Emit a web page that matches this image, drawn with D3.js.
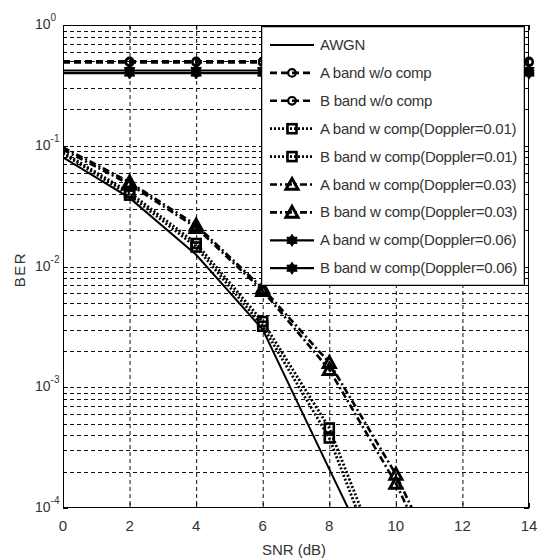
<!DOCTYPE html>
<html>
<head>
<meta charset="utf-8">
<script src="https://cdn.jsdelivr.net/npm/d3@7"></script>
<style>
  html, body { margin: 0; padding: 0; background: #fff; }
  svg { display: block; font-family: "Liberation Sans", Arial, sans-serif; }
</style>
</head>
<body>
<div id="chart"></div>
<script>
// --- data ---
const snrFull = [0, 2, 4, 6, 8, 10, 12, 14];
const aNoComp = [0.50, 0.50, 0.50, 0.50, 0.50, 0.50, 0.50, 0.50];
const bNoComp = [0.49, 0.49, 0.49, 0.49, 0.49, 0.49, 0.49, 0.49];
const aDop06 = [0.42, 0.42, 0.42, 0.42, 0.42, 0.42, 0.42, 0.42];
const bDop06 = [0.40, 0.40, 0.40, 0.40, 0.40, 0.40, 0.40, 0.40];

const snrAwgn = [0, 2, 4, 6, 8, 10];
const awgn = [0.08, 0.037, 0.0125, 0.003, 0.00021, 0.000015];

const snrDop01 = [0, 2, 4, 6, 8, 10];
const aDop01 = [0.088, 0.041, 0.0155, 0.0035, 0.00046, 0.000018];
const bDop01 = [0.086, 0.039, 0.0145, 0.0032, 0.00038, 0.000014];

const snrDop03 = [0, 2, 4, 6, 8, 10, 12];
const aDop03 = [0.097, 0.050, 0.022, 0.0066, 0.0016, 0.00019, 0.000013];
const bDop03 = [0.093, 0.048, 0.021, 0.0063, 0.0014, 0.00016, 0.000011];

const xTicks = [0, 2, 4, 6, 8, 10, 12, 14];
const yDecades = [0, -1, -2, -3, -4];

// series table: style per line
const series = [
  { name: 'AWGN', x: snrAwgn, y: awgn, dash: null, width: 2, marker: null },
  { name: 'A band w/o comp', x: snrFull, y: aNoComp, dash: '7,4', width: 2.6, marker: 'circle' },
  { name: 'B band w/o comp', x: snrFull, y: bNoComp, dash: '7,4', width: 2.6, marker: 'circle' },
  { name: 'A band w comp(Doppler=0.01)', x: snrDop01, y: aDop01, dash: '2,2', width: 2.8, marker: 'square' },
  { name: 'B band w comp(Doppler=0.01)', x: snrDop01, y: bDop01, dash: '2,2', width: 2.8, marker: 'square' },
  { name: 'A band w comp(Doppler=0.03)', x: snrDop03, y: aDop03, dash: '7,3,2,3', width: 2.6, marker: 'triangle' },
  { name: 'B band w comp(Doppler=0.03)', x: snrDop03, y: bDop03, dash: '7,3,2,3', width: 2.6, marker: 'triangle' },
  { name: 'A band w comp(Doppler=0.06)', x: snrFull, y: aDop06, dash: null, width: 2.2, marker: 'hexagram' },
  { name: 'B band w comp(Doppler=0.06)', x: snrFull, y: bDop06, dash: null, width: 2.2, marker: 'hexagram' }
];

const W = 549, H = 560;
const plot = { l: 63, r: 529, t: 25, b: 508 };

const x = d3.scaleLinear().domain([0, 14]).range([plot.l, plot.r]);
const y = d3.scaleLog().domain([1e-4, 1]).range([plot.b, plot.t]);

const svg = d3.select('#chart').append('svg').attr('width', W).attr('height', H);

svg.append('clipPath').attr('id', 'clip')
  .append('rect').attr('x', plot.l).attr('y', plot.t)
  .attr('width', plot.r - plot.l).attr('height', plot.b - plot.t);

// grid
const grid = svg.append('g').attr('stroke', '#111').attr('stroke-width', 1).attr('stroke-dasharray', '4,3');
xTicks.filter(t => t > 0 && t < 14).forEach(t => {
  grid.append('line').attr('x1', x(t) + 0.5).attr('x2', x(t) + 0.5)
    .attr('y1', plot.t).attr('y2', plot.b);
});
const yMinor = y.ticks().filter(v => v > 1e-4 && v < 1);
yMinor.forEach(v => {
  const yy = Math.round(y(v)) + 0.5;
  grid.append('line').attr('x1', plot.l).attr('x2', plot.r).attr('y1', yy).attr('y2', yy);
});

// lines
const lineGen = d3.line().x(d => x(d[0])).y(d => y(d[1]));
const lines = svg.append('g').attr('clip-path', 'url(#clip)');
series.forEach(s => {
  const pts = s.x.map((v, i) => [v, s.y[i]]);
  lines.append('path').attr('d', lineGen(pts))
    .attr('fill', 'none').attr('stroke', '#000')
    .attr('stroke-width', s.width)
    .attr('stroke-dasharray', s.dash);
});

// markers
function hexagramPath(R) {
  const pts = [];
  for (let i = 0; i < 12; i++) {
    const r = i % 2 === 0 ? R : R * 0.6;
    const a = -Math.PI / 2 + i * Math.PI / 6;
    pts.push([Math.cos(a) * r, Math.sin(a) * r]);
  }
  return d3.line().curve(d3.curveLinearClosed)(pts);
}
function drawMarker(g, type, cx, cy) {
  if (type === 'circle') {
    g.append('circle').attr('cx', cx).attr('cy', cy).attr('r', 3.8)
      .attr('fill', 'none').attr('stroke', '#000').attr('stroke-width', 2.2);
  } else if (type === 'square') {
    g.append('rect').attr('x', cx - 4.5).attr('y', cy - 4.5).attr('width', 9).attr('height', 9)
      .attr('fill', 'none').attr('stroke', '#000').attr('stroke-width', 2.6);
  } else if (type === 'triangle') {
    const s = 6;
    g.append('path').attr('d', `M${cx},${cy - s}L${cx + s},${cy + s * 0.8}L${cx - s},${cy + s * 0.8}Z`)
      .attr('fill', 'none').attr('stroke', '#000').attr('stroke-width', 3);
  } else if (type === 'hexagram') {
    g.append('path').attr('d', hexagramPath(6)).attr('transform', `translate(${cx},${cy})`)
      .attr('fill', '#000').attr('stroke', '#000').attr('stroke-width', 1);
  }
}
const marks = svg.append('g');
series.filter(s => s.marker).forEach(s => {
  s.x.forEach((v, i) => {
    if (v === 0) return; // no marker drawn at SNR 0 in the original
    const yy = y(s.y[i]);
    if (yy > plot.b + 1 || yy < plot.t - 1) return;
    drawMarker(marks, s.marker, x(v), yy);
  });
});

// axes box and ticks (inward, MATLAB style)
const axes = svg.append('g').attr('stroke', '#000').attr('stroke-width', 1);
axes.append('rect').attr('x', plot.l + 0.5).attr('y', plot.t + 0.5)
  .attr('width', plot.r - plot.l - 1).attr('height', plot.b - plot.t - 1).attr('fill', 'none');
xTicks.forEach(t => {
  const xx = x(t) + 0.5;
  axes.append('line').attr('x1', xx).attr('x2', xx).attr('y1', plot.b).attr('y2', plot.b - 5);
  axes.append('line').attr('x1', xx).attr('x2', xx).attr('y1', plot.t).attr('y2', plot.t + 5);
});
y.ticks().forEach(v => {
  const yy = Math.round(y(v)) + 0.5;
  const major = Math.abs(Math.log10(v) - Math.round(Math.log10(v))) < 1e-9;
  const len = major ? 5 : 3;
  axes.append('line').attr('x1', plot.l).attr('x2', plot.l + len).attr('y1', yy).attr('y2', yy);
  axes.append('line').attr('x1', plot.r).attr('x2', plot.r - len).attr('y1', yy).attr('y2', yy);
});

// tick labels
const labels = svg.append('g').attr('fill', '#333');
xTicks.forEach(t => {
  labels.append('text').attr('x', x(t)).attr('y', 531)
    .attr('text-anchor', 'middle').attr('font-size', 15).text(t);
});
yDecades.forEach(e => {
  const yy = y(Math.pow(10, e));
  const txt = labels.append('text').attr('x', 35).attr('y', yy + 4).attr('font-size', 14);
  txt.append('tspan').text('10');
  txt.append('tspan').attr('dy', -8).attr('font-size', 10).text(e === 0 ? '0' : '-' + Math.abs(e));
});

// axis titles
svg.append('text').attr('x', (plot.l + plot.r) / 2 - 2).attr('y', 555)
  .attr('text-anchor', 'middle').attr('font-size', 15).attr('fill', '#333').text('SNR (dB)');
svg.append('text').attr('transform', `translate(25,${(plot.t + plot.b) / 2 + 3}) rotate(-90)`)
  .attr('text-anchor', 'middle').attr('font-size', 15).attr('letter-spacing', 1.5).attr('fill', '#333').text('BER');

// legend
const leg = svg.append('g');
const lg = { x: 261, y: 26, w: 263, h: 259, row0: 45, rowH: 27.9 };
leg.append('rect').attr('x', lg.x + 0.5).attr('y', lg.y + 0.5).attr('width', lg.w).attr('height', lg.h)
  .attr('fill', '#fff').attr('stroke', '#000').attr('stroke-width', 1);
leg.append('rect').attr('x', lg.x + 1.5).attr('y', lg.y + 1.5).attr('width', lg.w - 2).attr('height', lg.h - 2)
  .attr('fill', 'none').attr('stroke', '#bbb').attr('stroke-width', 1);
series.forEach((s, i) => {
  const cy = lg.row0 + i * lg.rowH;
  leg.append('line').attr('x1', 270).attr('x2', 314).attr('y1', cy).attr('y2', cy)
    .attr('stroke', '#000').attr('stroke-width', s.width).attr('stroke-dasharray', s.dash);
  if (s.marker) drawMarker(leg, s.marker, 292, cy);
  leg.append('text').attr('x', 320).attr('y', cy + 5).attr('font-size', 15)
    .attr('letter-spacing', -0.25).attr('fill', '#333').text(s.name);
});
</script>
</body>
</html>
